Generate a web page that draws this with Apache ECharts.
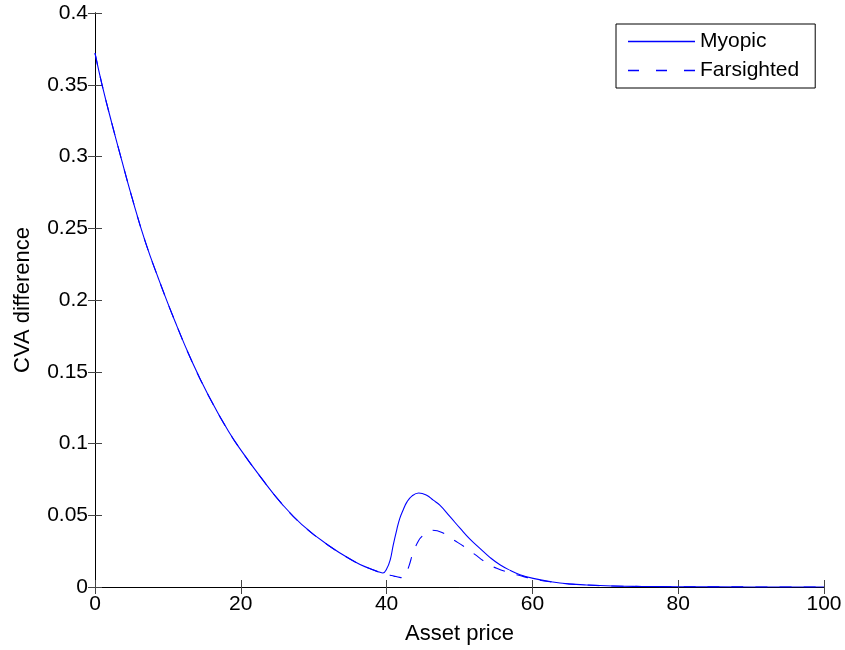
<!DOCTYPE html>
<html>
<head>
<meta charset="utf-8">
<script src="https://cdn.jsdelivr.net/npm/echarts@6/dist/echarts.min.js"></script>
<style>html,body{margin:0;padding:0;background:#fff}#c{width:845px;height:650px}</style>
</head>
<body>
<div id="c"></div>
<script>
// Data
var myopicX = [0, 0.92, 2.29, 3.66, 5.03, 6.86, 8.70, 10.98, 13.27, 15.56, 18.31, 20.14, 22.88, 25.63, 28.38, 32.04, 35.70, 37.5, 39.0, 39.5,
  40.0, 40.5, 40.9, 41.4, 41.8, 42.3, 42.8, 43.5, 44.4, 45.5, 46.4, 47.3, 48.7, 50.1, 51.4, 52.8, 54.2, 55.6, 57, 58.3, 60.1, 62.8, 65, 67.4, 71, 75, 80, 90, 100];
var myopicY = [0.372, 0.351, 0.3235, 0.2975, 0.2722, 0.2412, 0.2150, 0.1850, 0.1575, 0.1335, 0.1085, 0.0945, 0.0755, 0.0580, 0.0435, 0.0289, 0.0174, 0.0132, 0.0104, 0.0098,
  0.0125, 0.019, 0.029, 0.040, 0.0477, 0.054, 0.0593, 0.0635, 0.0655, 0.0639, 0.0605, 0.057, 0.049, 0.0408, 0.0335, 0.0269, 0.0205, 0.0153, 0.0115, 0.0086, 0.006, 0.0035, 0.0022, 0.0014, 0.0007, 0.0004, 0.0002, 0.00005, 0];
var farX = [0, 0.92, 2.29, 3.66, 5.03, 6.86, 8.70, 10.98, 13.27, 15.56, 18.31, 20.14, 22.88, 25.63, 28.38, 32.04, 35.70, 37.5, 39.0, 39.5,
  40.0, 40.5, 41.0, 41.8, 42.2, 42.6, 43.1, 43.6, 44.4, 45.0, 45.7, 46.3, 47.6, 49.1, 50.8, 52.1, 53.6, 55.1, 57.2, 58.7, 60.1, 62.8, 65, 67.4, 71, 75, 80, 90, 100];
var farY = [0.372, 0.351, 0.3235, 0.2975, 0.2722, 0.2412, 0.2150, 0.1850, 0.1575, 0.1335, 0.1085, 0.0945, 0.0755, 0.0580, 0.0435, 0.0289, 0.0174, 0.0132, 0.0104, 0.0096,
  0.0088, 0.0082, 0.0076, 0.0067, 0.0065, 0.0088, 0.0151, 0.0234, 0.0324, 0.036, 0.0387, 0.0395, 0.038, 0.0331, 0.0276, 0.0227, 0.0172, 0.013, 0.0095, 0.0074, 0.0056, 0.0034, 0.0021, 0.0014, 0.0007, 0.0004, 0.0002, 0.00005, 0];
var seriesNames = ['Myopic', 'Farsighted'];
var xName = 'Asset price';
var yName = 'CVA difference';

function pairs(xs, ys) { return xs.map(function (x, i) { return [x, ys[i]]; }); }

var FONT = 'Liberation Sans, Arial, Helvetica, sans-serif';
var BLUE = '#0000ff';
var chart = echarts.init(document.getElementById('c'), null, { renderer: 'canvas' });
var tickStyle = { show: true, inside: true, length: 7, lineStyle: { color: '#444', width: 1 } };
var lineStyleAxis = { show: true, lineStyle: { color: '#000', width: 1 } };
var solidIcon = 'path://M0,0h67v1.3h-67z';
var dashIcon = 'path://M0,0h11v1.3h-11z M28,0h11v1.3h-11z M56,0h11v1.3h-11z';
chart.setOption({
  animation: false,
  backgroundColor: '#fff',
  grid: { left: 95, right: 21, top: 13, bottom: 61, containLabel: false },
  legend: {
    data: [
      { name: seriesNames[0], icon: solidIcon },
      { name: seriesNames[1], icon: dashIcon }
    ],
    orient: 'vertical',
    left: 616, top: 24,
    padding: [7, 16, 7, 12],
    itemWidth: 67, itemHeight: 1.3, itemGap: 8, itemTextGap: 9,
    itemStyle: { color: BLUE, borderColor: BLUE, borderWidth: 0 },
    lineStyle: { color: BLUE },
    borderColor: '#000', borderWidth: 1, backgroundColor: '#fff',
    textStyle: { fontFamily: FONT, fontSize: 21, color: '#000' }
  },
  xAxis: [{
    type: 'value', min: 0, max: 100, interval: 20, position: 'bottom',
    name: xName, nameLocation: 'middle', nameGap: 36,
    nameTextStyle: { fontFamily: FONT, fontSize: 22, color: '#000' },
    axisLine: lineStyleAxis, axisTick: tickStyle, splitLine: { show: false },
    axisLabel: { fontFamily: FONT, fontSize: 21, color: '#000', margin: 7 }
  }, {
    type: 'value', min: 0, max: 100, interval: 20, position: 'top',
    axisLine: lineStyleAxis, axisTick: tickStyle, splitLine: { show: false },
    axisLabel: { show: false }
  }],
  yAxis: [{
    type: 'value', min: 0, max: 0.4, interval: 0.05, position: 'left',
    name: yName, nameLocation: 'middle', nameGap: 61,
    nameTextStyle: { fontFamily: FONT, fontSize: 22, color: '#000' },
    axisLine: lineStyleAxis, axisTick: tickStyle, splitLine: { show: false },
    axisLabel: { fontFamily: FONT, fontSize: 21, color: '#000', margin: 7 }
  }, {
    type: 'value', min: 0, max: 0.4, interval: 0.05, position: 'right',
    axisLine: lineStyleAxis, axisTick: tickStyle, splitLine: { show: false },
    axisLabel: { show: false }
  }],
  series: [{
    name: seriesNames[0], type: 'line', data: pairs(myopicX, myopicY),
    showSymbol: false, symbol: 'none', smooth: 0.45,
    lineStyle: { color: BLUE, width: 1.1 }, itemStyle: { color: BLUE }
  }, {
    name: seriesNames[1], type: 'line', data: pairs(farX, farY),
    showSymbol: false, symbol: 'none', smooth: 0.45,
    lineStyle: { color: BLUE, width: 1.1, type: [12, 12] }, itemStyle: { color: BLUE }
  }]
});
</script>
</body>
</html>
